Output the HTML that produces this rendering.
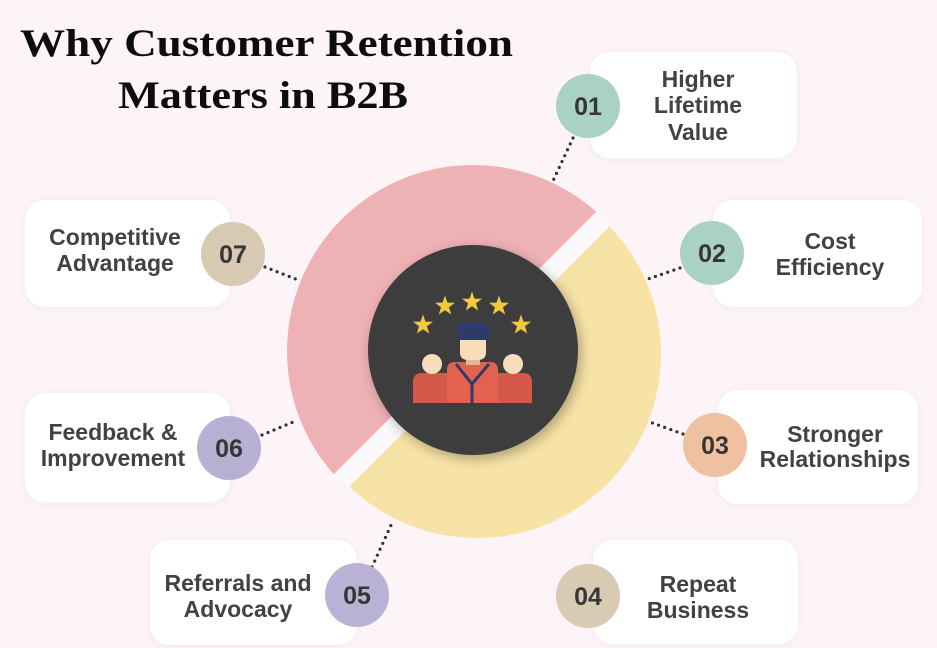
<!DOCTYPE html>
<html>
<head>
<meta charset="utf-8">
<style>
  html,body{margin:0;padding:0;background:#fdf4f8;}
  svg{display:block;}
  .lbl{font-family:"Liberation Sans",sans-serif;font-weight:bold;font-size:23px;fill:#424242;text-anchor:middle;}
  .num{font-family:"Liberation Sans",sans-serif;font-weight:bold;font-size:25px;fill:#363636;text-anchor:middle;}
  .ttl{font-family:"Liberation Serif",serif;font-weight:bold;font-size:39px;fill:#0d0d0d;}
</style>
</head>
<body>
<svg width="937" height="648" viewBox="0 0 937 648" xmlns="http://www.w3.org/2000/svg">
  <defs>
    <filter id="boxsh" x="-20%" y="-20%" width="140%" height="140%">
      <feGaussianBlur in="SourceAlpha" stdDeviation="5"/>
      <feOffset dx="0" dy="1"/>
      <feComponentTransfer><feFuncA type="linear" slope="0.05"/></feComponentTransfer>
      <feMerge><feMergeNode/><feMergeNode in="SourceGraphic"/></feMerge>
    </filter>
    <filter id="darksh" x="-30%" y="-30%" width="160%" height="160%">
      <feGaussianBlur in="SourceAlpha" stdDeviation="6"/>
      <feOffset dx="3" dy="4"/>
      <feComponentTransfer><feFuncA type="linear" slope="0.3"/></feComponentTransfer>
      <feMerge><feMergeNode/><feMergeNode in="SourceGraphic"/></feMerge>
    </filter>
    <clipPath id="pinkclip"><polygon points="0,0 808,0 0,808"/></clipPath>
    <clipPath id="yellowclip"><polygon points="836,0 937,0 937,648 188,648"/></clipPath>
    <clipPath id="bandclip"><polygon points="808,0 836,0 188,648 160,648"/></clipPath>
    <polygon id="star" points="0,-10.5 2.45,-3.4 10,-3.25 4,1.3 6.17,8.5 0,4.2 -6.17,8.5 -4,1.3 -10,-3.25 -2.45,-3.4"/>
  </defs>

  <rect width="937" height="648" fill="#fdf4f8"/>

  <!-- Title -->
  <text class="ttl" x="20" y="56" textLength="493" lengthAdjust="spacingAndGlyphs">Why Customer Retention</text>
  <text class="ttl" x="118" y="108" textLength="290" lengthAdjust="spacingAndGlyphs">Matters in B2B</text>

  <!-- Boxes -->
  <g fill="#ffffff" filter="url(#boxsh)">
    <rect x="590" y="52" width="207" height="106" rx="20"/>
    <rect x="713" y="200" width="209" height="107" rx="20"/>
    <rect x="718" y="390" width="200" height="114" rx="20"/>
    <rect x="593" y="540" width="205" height="104" rx="20"/>
    <rect x="150" y="540" width="207" height="105" rx="20"/>
    <rect x="25" y="393" width="205" height="109" rx="20"/>
    <rect x="25" y="200" width="205" height="107" rx="20"/>
  </g>

  <!-- Ring -->
  <circle cx="475" cy="353" r="184" fill="#fbfafa" clip-path="url(#bandclip)"/>
  <circle cx="473" cy="351" r="186" fill="#eeb1b4" clip-path="url(#pinkclip)"/>
  <circle cx="477" cy="354" r="184" fill="#f7e3a6" clip-path="url(#yellowclip)"/>

  <!-- Connectors -->
  <g stroke="#333" stroke-width="3.2" stroke-linecap="round" stroke-dasharray="0 6.5" fill="none">
    <line x1="573" y1="138" x2="552" y2="183"/>
    <line x1="680" y1="268" x2="648" y2="279"/>
    <line x1="683" y1="434" x2="647" y2="421"/>
    <line x1="265" y1="267" x2="298" y2="280"/>
    <line x1="262" y1="435" x2="298" y2="420"/>
    <line x1="372" y1="567" x2="392" y2="523"/>
  </g>

  <!-- Dark centre -->
  <circle cx="473" cy="350" r="105" fill="#3d3d3d" filter="url(#darksh)"/>

  <!-- Stars -->
  <g fill="#f2c83d">
    <use href="#star" x="423" y="325"/>
    <use href="#star" x="445" y="306"/>
    <use href="#star" x="472" y="302"/>
    <use href="#star" x="499" y="306"/>
    <use href="#star" x="521" y="325"/>
  </g>

  <!-- People -->
  <path d="M413,403 V382 Q413,373 422,373 H447 V403 Z" fill="#d3594a"/>
  <path d="M532,403 V382 Q532,373 523,373 H498 V403 Z" fill="#d3594a"/>
  <circle cx="432" cy="364" r="10" fill="#f8dcbc"/>
  <circle cx="513" cy="364" r="10" fill="#f8dcbc"/>
  <path d="M447,403 V370 Q447,362 455,362 H490 Q498,362 498,370 V403 Z" fill="#e2624f"/>
  <rect x="466" y="355" width="14" height="10" fill="#e2b896"/>
  <path d="M460,337 H486 V352 Q486,360 478,360 H468 Q460,360 460,352 Z" fill="#f8dcbc"/>
  <path d="M458,340 V330 Q458,322 466,322 H481 Q489,322 489,330 V340 Z" fill="#2d3a6b"/>
  <path d="M456,364 L472,384 L489,364" stroke="#2d3a6b" stroke-width="3" fill="none"/>
  <line x1="472" y1="384" x2="472" y2="403" stroke="#2d3a6b" stroke-width="3"/>

  <!-- Number circles -->
  <circle cx="588" cy="106" r="32" fill="#a9d1c4"/>
  <circle cx="712" cy="253" r="32" fill="#a9d1c4"/>
  <circle cx="715" cy="445" r="32" fill="#f0c1a1"/>
  <circle cx="588" cy="596" r="32" fill="#d9cab4"/>
  <circle cx="357" cy="595" r="32" fill="#b9b2d5"/>
  <circle cx="229" cy="448" r="32" fill="#b6b0d3"/>
  <circle cx="233" cy="254" r="32" fill="#d8c9b3"/>

  <text class="num" x="588" y="115">01</text>
  <text class="num" x="712" y="262">02</text>
  <text class="num" x="715" y="454">03</text>
  <text class="num" x="588" y="605">04</text>
  <text class="num" x="357" y="604">05</text>
  <text class="num" x="229" y="457">06</text>
  <text class="num" x="233" y="263">07</text>

  <!-- Labels -->
  <text class="lbl" x="698" y="87">Higher</text>
  <text class="lbl" x="698" y="113">Lifetime</text>
  <text class="lbl" x="698" y="140">Value</text>

  <text class="lbl" x="830" y="249">Cost</text>
  <text class="lbl" x="830" y="275">Efficiency</text>

  <text class="lbl" x="835" y="442">Stronger</text>
  <text class="lbl" x="835" y="467">Relationships</text>

  <text class="lbl" x="698" y="592">Repeat</text>
  <text class="lbl" x="698" y="618">Business</text>

  <text class="lbl" x="238" y="591">Referrals and</text>
  <text class="lbl" x="238" y="617">Advocacy</text>

  <text class="lbl" x="113" y="440">Feedback &amp;</text>
  <text class="lbl" x="113" y="466">Improvement</text>

  <text class="lbl" x="115" y="245">Competitive</text>
  <text class="lbl" x="115" y="271">Advantage</text>
</svg>
</body>
</html>
